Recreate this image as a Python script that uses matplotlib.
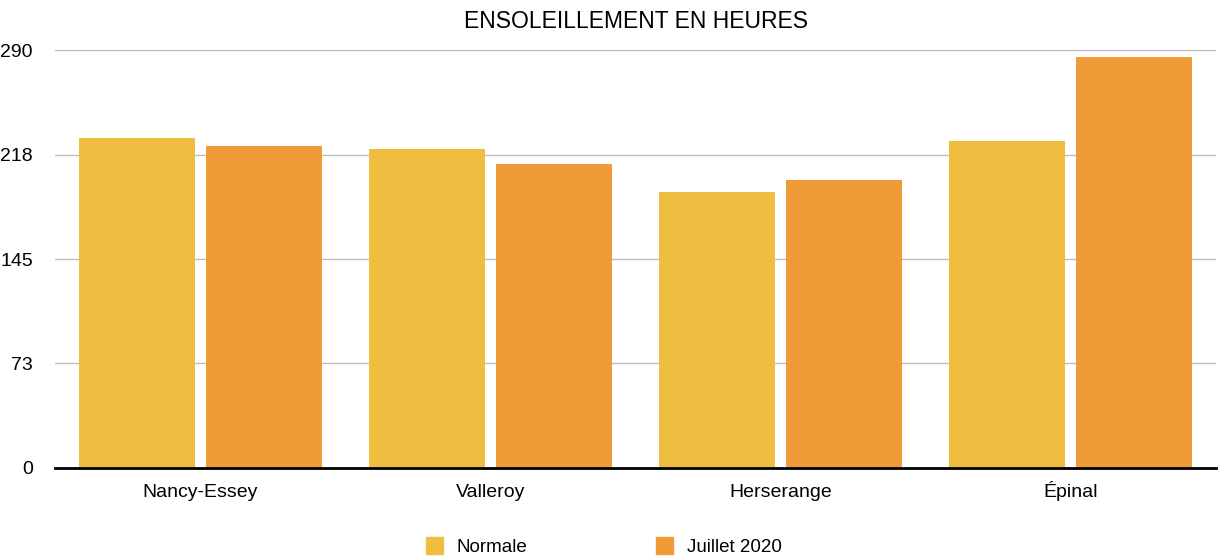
import matplotlib.pyplot as plt
from matplotlib.patches import Patch
import numpy as np

plt.rcParams['font.family'] = ['Liberation Sans', 'DejaVu Sans']

#==============================

stations = ['Nancy-Essey', 'Valleroy', 'Herserange', 'Épinal']
normale = [229, 221.5, 191.5, 227]
juillet = [223.5, 211, 200, 285.5]
series_names = ['Normale', 'Juillet 2020']
yticks = [0, 72.5, 145, 217.5, 290]
ytick_labels = ['0', '73', '145', '218', '290']

c_norm = '#EFBE40'
c_juil = '#F09B38'

#==============================

fig = plt.figure(figsize=(12.18, 5.58), dpi=100)
ax = fig.add_axes([55 / 1218, 90.3 / 558, (1216 - 55) / 1218, (467.7 - 50.3) / 558])

x = np.arange(len(stations))
w = 0.4
ax.bar(x - 0.219, normale, width=w, color=c_norm, zorder=2)
ax.bar(x + 0.219, juillet, width=w, color=c_juil, zorder=2)

ax.set_xlim(-0.5, len(stations) - 0.5)
ax.set_ylim(0, 290)
ax.set_yticks(yticks)
ax.set_yticklabels(ytick_labels)
ax.set_xticks(x)
ax.set_xticklabels(stations, va='baseline')

ax.yaxis.grid(True, color='#BBBBBB', linewidth=1.0, zorder=0)
for s in ['top', 'right', 'left']:
    ax.spines[s].set_visible(False)
ax.spines['bottom'].set_linewidth(2)
ax.spines['bottom'].set_zorder(3)
ax.tick_params(axis='both', length=0, labelsize=14)
ax.tick_params(axis='y', pad=16)
ax.tick_params(axis='x', pad=21)

ax.set_title('ENSOLEILLEMENT EN HEURES', fontsize=16.5, pad=16)

handles = [Patch(color=c_norm), Patch(color=c_juil)]
fig.legend(handles, series_names, loc='center', bbox_to_anchor=(0.4955, 0.021),
           ncol=2, frameon=False, fontsize=13.5, handlelength=0.92, handleheight=1.02,
           handletextpad=0.7, columnspacing=6.9, borderpad=0, borderaxespad=0)

fig.savefig('out.png', dpi=100)
